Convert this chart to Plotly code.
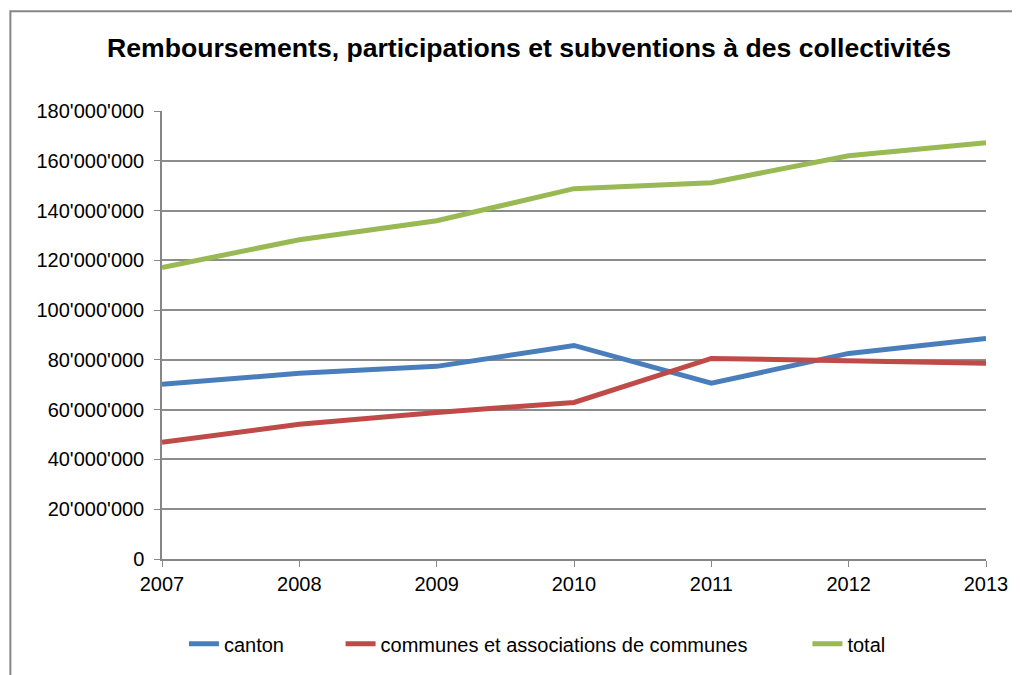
import plotly.graph_objects as go

years = [2007, 2008, 2009, 2010, 2011, 2012, 2013]
canton = [70.2e6, 74.6e6, 77.4e6, 85.8e6, 70.6e6, 82.6e6, 88.6e6]
communes = [46.9e6, 54.1e6, 58.9e6, 62.9e6, 80.6e6, 79.4e6, 78.6e6]
total = [117.1e6, 128.3e6, 135.9e6, 148.8e6, 151.2e6, 162.0e6, 167.2e6]

series_names = ["canton", "communes et associations de communes", "total"]
series_colors = ["#4A7EBB", "#BE4B48", "#98B954"]
y_ticks = [0, 20e6, 40e6, 60e6, 80e6, 100e6, 120e6, 140e6, 160e6, 180e6]

FONT = "Liberation Sans, Arial, sans-serif"

# page has an 8px body margin; size figure so it fits the 1020x675 window
OFF = 8
W, H = 1020 - OFF, 675 - OFF
ml, mr, mt, mb = 162 - OFF, 32, 111 - OFF, 115
pw, ph = W - ml - mr, H - mt - mb

def px_x(p):
    return (p - OFF - ml) / pw

def px_y(p):
    return (H - mb - (p - OFF)) / ph

legend_ids = ["legend", "legend2", "legend3"]
legend_x_px = [184, 341, 809]

fig = go.Figure()
for name, vals, col, lid in zip(series_names, [canton, communes, total], series_colors, legend_ids):
    fig.add_trace(go.Scatter(x=years, y=vals, mode="lines", name=name, legend=lid,
                             line=dict(color=col, width=5)))

legend_common = dict(orientation="h", xanchor="left", yanchor="middle", y=px_y(645),
                     font=dict(family=FONT, size=20, color="black"), itemwidth=30,
                     bgcolor="rgba(0,0,0,0)", borderwidth=0)

fig.update_layout(
    width=W, height=H,
    margin=dict(l=ml, r=mr, t=mt, b=mb),
    paper_bgcolor="white", plot_bgcolor="white",
    separators=".'",
    font=dict(family=FONT, size=20, color="black"),
    title=dict(text="<b>Remboursements, participations et subventions à des collectivités</b>",
               x=(529 - OFF) / W, xanchor="center", y=1 - (48 - OFF) / H, yanchor="middle",
               font=dict(family=FONT, size=26.6, color="black")),
    xaxis=dict(range=[2007, 2013], tickvals=years, showline=True, linecolor="#868686",
               linewidth=1.5, ticks="outside", ticklen=6, tickcolor="#868686",
               showgrid=False, zeroline=False, tickfont=dict(size=20)),
    yaxis=dict(range=[0, 180e6], tickvals=y_ticks, tickformat=",d", showline=True,
               linecolor="#868686", linewidth=1.5, ticks="outside", ticklen=6,
               tickcolor="#868686", showgrid=True, gridcolor="#8C8C8C", gridwidth=1.5,
               zeroline=False, tickfont=dict(size=20), ticklabelstandoff=6),
    legend=dict(x=px_x(legend_x_px[0]), **legend_common),
    legend2=dict(x=px_x(legend_x_px[1]), **legend_common),
    legend3=dict(x=px_x(legend_x_px[2]), **legend_common),
    showlegend=True,
)

fig.add_shape(type="rect", xref="paper", yref="paper",
              x0=px_x(10), x1=px_x(1030), y0=px_y(690), y1=px_y(11),
              line=dict(color="#868686", width=2), fillcolor="rgba(0,0,0,0)", layer="below")

fig.write_html("out.html")
